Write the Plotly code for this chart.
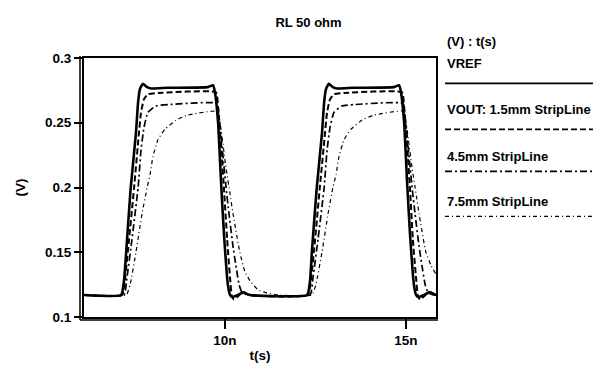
import plotly.graph_objects as go

# ---- data (time in ns, voltage in V) ----
t_vref = [6.10, 7.13, 7.21, 7.27, 7.39, 7.54, 7.60, 7.65, 7.73, 7.85, 7.96, 8.43, 9.53, 9.67, 9.72, 9.81, 9.89, 9.97, 10.08, 10.14, 10.19, 10.36, 10.50, 10.69,
          12.27, 12.35, 12.40, 12.53, 12.68, 12.74, 12.79, 12.87, 12.98, 13.09, 13.56, 14.67, 14.81, 14.86, 14.95, 15.03, 15.11, 15.22, 15.28, 15.33, 15.50, 15.64, 15.83]
v_vref = [0.117, 0.117, 0.128, 0.150, 0.198, 0.242, 0.266, 0.276, 0.280, 0.2775, 0.2765, 0.277, 0.2775, 0.279, 0.274, 0.250, 0.205, 0.165, 0.125, 0.117, 0.1155, 0.117, 0.119, 0.117,
          0.117, 0.128, 0.150, 0.198, 0.242, 0.266, 0.276, 0.280, 0.2775, 0.2765, 0.277, 0.2775, 0.279, 0.274, 0.250, 0.205, 0.165, 0.125, 0.117, 0.1155, 0.117, 0.119, 0.117]

t_15 = [6.10, 7.16, 7.24, 7.35, 7.49, 7.60, 7.68, 7.76, 7.87, 8.15, 9.75, 9.81, 9.86, 9.97, 10.06, 10.14, 10.19, 10.25, 10.36, 10.50, 10.64,
        12.29, 12.38, 12.49, 12.62, 12.74, 12.82, 12.90, 13.01, 13.29, 14.89, 14.95, 15.00, 15.11, 15.19, 15.28, 15.33, 15.39, 15.50, 15.64, 15.83]
v_15 = [0.117, 0.117, 0.130, 0.160, 0.200, 0.235, 0.258, 0.268, 0.272, 0.273, 0.2735, 0.262, 0.245, 0.200, 0.160, 0.130, 0.116, 0.1135, 0.116, 0.1195, 0.117,
        0.117, 0.130, 0.160, 0.200, 0.235, 0.258, 0.268, 0.272, 0.273, 0.2735, 0.262, 0.245, 0.200, 0.160, 0.130, 0.116, 0.1135, 0.116, 0.1195, 0.117]

t_45 = [6.10, 7.21, 7.29, 7.43, 7.60, 7.68, 7.76, 7.87, 8.09, 8.43, 9.78, 9.83, 9.89, 10.03, 10.11, 10.22, 10.30, 10.39, 10.47, 10.64,
        12.35, 12.43, 12.57, 12.74, 12.82, 12.90, 13.01, 13.23, 13.56, 14.92, 14.97, 15.03, 15.17, 15.25, 15.36, 15.44, 15.53, 15.61, 15.77, 15.83]
v_45 = [0.117, 0.117, 0.130, 0.160, 0.200, 0.229, 0.246, 0.258, 0.263, 0.264, 0.265, 0.255, 0.240, 0.200, 0.180, 0.155, 0.140, 0.125, 0.119, 0.117,
        0.117, 0.130, 0.160, 0.200, 0.229, 0.246, 0.258, 0.263, 0.264, 0.265, 0.255, 0.240, 0.200, 0.180, 0.155, 0.140, 0.125, 0.119, 0.117, 0.117]

t_75 = [6.10, 7.27, 7.38, 7.54, 7.71, 7.85, 7.93, 8.01, 8.15, 8.34, 8.65, 8.98, 9.78, 9.83, 9.89, 10.03, 10.14, 10.22, 10.41, 10.55, 10.69, 10.91, 11.11, 11.46,
        12.40, 12.51, 12.68, 12.85, 12.98, 13.07, 13.15, 13.29, 13.48, 13.78, 14.12, 14.92, 14.97, 15.03, 15.17, 15.28, 15.36, 15.55, 15.69, 15.83]
v_75 = [0.117, 0.117, 0.125, 0.150, 0.180, 0.200, 0.210, 0.224, 0.237, 0.245, 0.252, 0.256, 0.259, 0.255, 0.245, 0.215, 0.195, 0.180, 0.150, 0.135, 0.128, 0.121, 0.119, 0.117,
        0.117, 0.125, 0.150, 0.180, 0.200, 0.210, 0.224, 0.237, 0.245, 0.252, 0.256, 0.259, 0.255, 0.245, 0.215, 0.195, 0.180, 0.150, 0.140, 0.133]

series_names = ["VREF", "VOUT: 1.5mm StripLine", "4.5mm StripLine", "7.5mm StripLine"]
x_ticks = [10, 15]
x_tick_labels = ["10n", "15n"]
y_ticks = [0.1, 0.15, 0.2, 0.25, 0.3]
y_tick_labels = ["0.1", "0.15", "0.2", "0.25", "0.3"]

styles = [
    dict(width=2.6, dash="solid"),
    dict(width=2.0, dash="6px,3px"),
    dict(width=1.7, dash="7px,3px,2px,3px"),
    dict(width=1.2, dash="4px,3px,1px,3px"),
]

FONT = "Liberation Sans, Arial, sans-serif"

fig = go.Figure()
for (tx, vy), name, st in zip([(t_vref, v_vref), (t_15, v_15), (t_45, v_45), (t_75, v_75)], series_names, styles):
    fig.add_trace(go.Scatter(x=tx, y=vy, mode="lines", name=name,
                             line=dict(color="black", width=st["width"], dash=st["dash"], shape="spline", smoothing=0.4),
                             showlegend=False))

L, R, T, B = 76, 173, 50, 50
W, H = 601, 365
pw, ph = W - L - R, H - T - B

def px2paper_x(px):
    return (px - L) / pw

def px2paper_y(py):
    return (H - B - py) / ph

fig.update_layout(
    width=W, height=H,
    margin=dict(l=L, r=R, t=T, b=B),
    paper_bgcolor="white", plot_bgcolor="white",
    font=dict(family=FONT, size=12, color="black", weight="bold"),
    title=dict(text="RL 50 ohm", x=0.5, xref="container", xanchor="center", y=1 - 14 / H, yanchor="middle",
               font=dict(family=FONT, size=13, weight="bold")),
    xaxis=dict(range=[6.105, 15.83], tickvals=x_ticks, ticktext=x_tick_labels, ticks="outside", ticklen=10,
               tickwidth=2, tickcolor="black", showline=True, linecolor="black", linewidth=2, mirror=True,
               showgrid=False, zeroline=False, tickfont=dict(family=FONT, size=13.5, weight="bold"),
               title=dict(text="t(s)", font=dict(family=FONT, size=13.5, weight="bold"), standoff=3)),
    yaxis=dict(range=[0.1, 0.3], tickvals=y_ticks, ticktext=y_tick_labels, ticks="outside", ticklen=8,
               tickwidth=2, tickcolor="black", showline=True, linecolor="black", linewidth=2, mirror=True,
               showgrid=False, zeroline=False, tickfont=dict(family=FONT, size=13.5, weight="bold"),
               title=dict(text="(V)", font=dict(family=FONT, size=13.5, weight="bold"), standoff=16)),
)

# offset axis lines (double-line look)
fig.add_shape(type="line", xref="paper", yref="paper", x0=px2paper_x(72), x1=px2paper_x(72),
              y0=px2paper_y(48), y1=px2paper_y(318), line=dict(color="black", width=1.5))
fig.add_shape(type="line", xref="paper", yref="paper", x0=px2paper_x(72), x1=px2paper_x(430),
              y0=px2paper_y(318), y1=px2paper_y(318), line=dict(color="black", width=1.5))

# custom legend: header, names above sample lines
legend_x = px2paper_x(437)
legend_x2 = px2paper_x(590)
fig.add_annotation(text="(V) : t(s)", xref="paper", yref="paper", x=legend_x, y=px2paper_y(33),
                   xanchor="left", yanchor="middle", showarrow=False, font=dict(family=FONT, size=13, weight="bold"))
text_y = [56, 103, 151, 197]
line_y = [76, 123, 166, 212]
for name, ty, ly, st in zip(series_names, text_y, line_y, styles):
    fig.add_annotation(text=name, xref="paper", yref="paper", x=legend_x, y=px2paper_y(ty),
                       xanchor="left", yanchor="middle", showarrow=False,
                       font=dict(family=FONT, size=13, weight="bold"))
    fig.add_shape(type="line", xref="paper", yref="paper", x0=legend_x, x1=legend_x2,
                  y0=px2paper_y(ly), y1=px2paper_y(ly),
                  line=dict(color="black", width=min(st["width"], 1.8), dash=st["dash"]))

fig.write_html("out.html")
